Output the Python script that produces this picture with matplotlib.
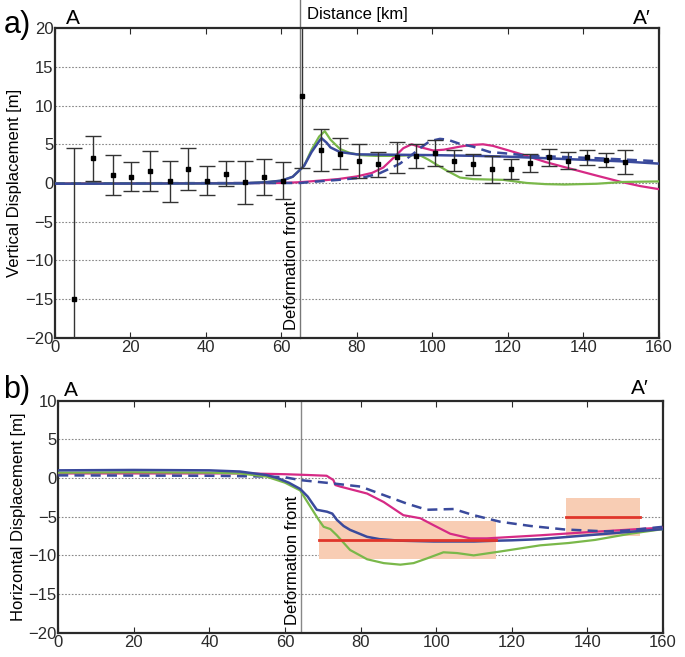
import numpy as np
import matplotlib
matplotlib.use("Agg")
import matplotlib.pyplot as plt

plt.rcParams['font.family'] = ['Liberation Sans', 'DejaVu Sans']

# Observaciones (panel a): distancia, desplazamiento vertical, error
obs_x = [5.2, 10.2, 15.3, 20.3, 25.3, 30.4, 35.4, 40.4, 45.4, 50.4, 55.4, 60.5,
         65.5, 70.5, 75.5, 80.6, 85.7, 90.7, 95.7, 100.7, 105.8, 110.7, 115.8,
         120.8, 125.8, 130.9, 135.9, 140.9, 146.0, 151.0]
obs_y = [-15.0, 3.2, 1.0, 0.8, 1.5, 0.2, 1.8, 0.3, 1.2, 0.1, 0.8, 0.3,
         11.2, 4.3, 3.8, 2.9, 2.4, 3.3, 3.5, 3.9, 2.9, 2.4, 1.8,
         1.8, 2.6, 3.3, 2.9, 3.3, 3.0, 2.7]
obs_err = [19.5, 2.9, 2.6, 1.9, 2.6, 2.7, 2.7, 1.9, 1.6, 2.8, 2.3, 2.4,
           9.3, 2.7, 1.95, 2.2, 1.65, 2.05, 1.55, 1.65, 1.35, 1.4, 1.75,
           1.35, 1.2, 1.15, 1.15, 0.95, 0.9, 1.55]

# Modelos verticales (panel a)
blue_a_x = [0, 50, 56, 60, 63, 66, 68, 70, 70.6, 72, 73, 75.5, 80, 90, 100, 112, 120, 130, 140, 150, 160]
blue_a_y = [-0.1, -0.05, 0.1, 0.3, 0.8, 2.2, 4.0, 5.4, 5.8, 5.2, 4.6, 4.0, 3.7, 3.65, 3.6, 3.5, 3.4, 3.2, 3.0, 2.8, 2.5]
green_a_x = [0, 50, 56, 60, 63, 66, 68, 70, 71.5, 73, 75.5, 78, 81, 85, 90, 95, 97, 99, 101, 103.8,
             107.3, 110.8, 118.8, 125, 130, 135, 143.5, 150.5, 160]
green_a_y = [-0.1, -0.05, 0.1, 0.3, 0.8, 2.2, 4.3, 6.0, 6.7, 5.6, 4.4, 3.9, 3.6, 3.5, 3.5, 3.6, 3.5, 3.0, 2.4, 1.6,
             0.7, 0.5, 0.4, 0.0, -0.15, -0.2, -0.1, 0.13, 0.2]
magenta_a_x = [0, 60, 65, 70, 75, 80, 84, 87, 89.6, 92.3, 94.5, 97, 100.2, 103, 107.3, 110, 113.4, 116,
               122.3, 125, 130, 134.6, 140, 143.5, 149.7, 155, 160]
magenta_a_y = [-0.05, 0.0, 0.1, 0.3, 0.5, 0.85, 1.3, 2.0, 3.2, 4.5, 5.0, 4.6, 4.2, 4.3, 4.7, 4.9, 5.0, 4.8,
               3.9, 3.5, 2.7, 2.1, 1.4, 0.95, 0.17, -0.4, -0.8]
dashed_a_x = [0, 65, 68.4, 75, 81.7, 86, 88, 91.4, 95, 97, 99.3, 102, 104, 107, 110.7, 115.2, 120, 125.8,
              130, 143.5, 150, 160]
dashed_a_y = [-0.05, 0.0, 0.15, 0.4, 0.7, 1.25, 1.7, 2.5, 3.8, 4.6, 5.4, 5.7, 5.6, 5.1, 4.7, 4.0, 3.8, 3.5,
              3.45, 3.2, 3.05, 2.8]

# Modelos horizontales (panel b)
blue_b_x = [0, 20, 40, 48, 55, 58, 61, 64, 66, 68.4, 71.1, 72.5, 73.7, 75.5, 77.2, 81.7, 85, 90.5, 99.3,
            110, 116, 120, 127.5, 140, 150, 160]
blue_b_y = [1.0, 1.05, 1.0, 0.85, 0.4, 0.0, -0.6, -1.4, -2.4, -4.1, -4.35, -4.6, -5.4, -6.2, -6.7, -7.6,
            -7.9, -8.1, -8.2, -8.2, -8.1, -8.05, -7.9, -7.4, -7.0, -6.6]
green_b_x = [0, 20, 40, 48, 55, 60, 64, 66.7, 68.9, 70.2, 72, 73.7, 77.2, 81.7, 86.1, 90.5, 94, 97.5,
             101.9, 105.5, 109.9, 116.9, 127.5, 135, 142, 151.3, 160]
green_b_y = [0.7, 0.75, 0.7, 0.6, 0.2, -0.6, -1.6, -3.7, -5.4, -6.3, -6.6, -7.4, -9.3, -10.5, -11.0, -11.2,
             -11.0, -10.4, -9.6, -9.7, -10.0, -9.5, -8.7, -8.4, -8.0, -7.2, -6.6]
magenta_b_x = [0, 50, 60, 66, 71, 72.8, 73.3, 74.6, 81.7, 86.1, 91.3, 95.8, 99.3, 103.7, 109, 113.4,
               116.9, 127.5, 140, 150, 160]
magenta_b_y = [0.6, 0.6, 0.5, 0.4, 0.3, -0.26, -0.9, -1.1, -2.0, -3.1, -4.8, -5.2, -6.1, -7.2, -7.8, -7.8,
               -7.7, -7.4, -7.0, -6.7, -6.4]
dashed_b_x = [0, 40, 55, 60, 64, 72.8, 80, 86.1, 92.2, 97.5, 101, 104.6, 109.9, 116.9, 125, 134, 145, 150, 160]
dashed_b_y = [0.35, 0.3, 0.2, 0.1, -0.26, -0.7, -1.1, -2.2, -3.3, -4.1, -4.05, -4.0, -4.8, -5.65, -6.2,
              -6.65, -6.9, -6.8, -6.3]

# Segmentos con incertidumbre (panel b)
seg_start = [69.0, 134.4]
seg_end = [115.8, 154.0]
seg_val = [-8.05, -5.05]
seg_unc = [2.45, 2.5]

front_a = 65.0
front_b = 64.3

c_blue = '#3a4a9c'
c_green = '#7ab84a'
c_mag = '#d62a85'
c_red = '#e0362b'
c_box = '#f8cdb4'

fig = plt.figure(figsize=(6.85, 6.57), dpi=100)
ax1 = fig.add_axes([0.080, 0.486, 0.882, 0.471])
ax2 = fig.add_axes([0.085, 0.037, 0.883, 0.353])

def style(ax, ymin, ymax):
    ax.set_xlim(0, 160)
    ax.set_ylim(ymin, ymax)
    ax.set_xticks(np.arange(0, 161, 20))
    ax.set_yticks(np.arange(ymin, ymax + 1, 5))
    for y in np.arange(ymin + 5, ymax, 5):
        ax.axhline(y, color='#888888', ls=(0, (1.5, 1.5)), lw=0.8, zorder=0)
    for s in ax.spines.values():
        s.set_linewidth(1.6)
        s.set_color('#2a2a2a')
    ax.tick_params(direction='in', length=4, width=0.8, top=True, right=True,
                   labelsize=12, pad=2, colors='#2a2a2a')
    ax.tick_params(axis='y', pad=1, length=0)

# Panel a
style(ax1, -20, 20)
ax1.plot([front_a, front_a], [-20, 23.8], color='#777777', lw=1.0, clip_on=False, zorder=1)
ax1.errorbar(obs_x, obs_y, yerr=obs_err, fmt='s', color='black', ecolor='#333333',
             ms=3.5, elinewidth=1.0, capsize=5.5, capthick=1.0, zorder=5)
ax1.plot(magenta_a_x, magenta_a_y, color=c_mag, lw=1.6, zorder=3)
ax1.plot(dashed_a_x, dashed_a_y, color=c_blue, lw=1.8, ls=(0, (4, 2.5)), zorder=3)
ax1.plot(green_a_x, green_a_y, color=c_green, lw=1.6, zorder=3)
ax1.plot(blue_a_x, blue_a_y, color=c_blue, lw=1.8, zorder=4)
ax1.set_ylabel("Vertical Displacement [m]", fontsize=12, labelpad=2)
ax1.text(front_a - 0.3, -19.0, "Deformation front", rotation=90, ha='right', va='bottom', fontsize=12)
ax1.text(0.5, 1.02, "Distance [km]", transform=ax1.transAxes, ha='center', va='bottom', fontsize=12)
fig.text(0.005, 0.962, "a)", fontsize=22, va='center', ha='left')
fig.text(0.107, 0.972, "A", fontsize=15, va='center', ha='center')
fig.text(0.937, 0.972, "A\u2032", fontsize=15, va='center', ha='center')

# Panel b
style(ax2, -20, 10)
ax2.axvline(front_b, color='#888888', lw=1.0, zorder=1)
for xs, xe, v, u in zip(seg_start, seg_end, seg_val, seg_unc):
    ax2.fill_between([xs, xe], [v - u, v - u], [v + u, v + u], color=c_box, lw=0, zorder=1)
    ax2.plot([xs, xe], [v, v], color=c_red, lw=2.0, zorder=5)
ax2.plot(magenta_b_x, magenta_b_y, color=c_mag, lw=1.6, zorder=3)
ax2.plot(dashed_b_x, dashed_b_y, color=c_blue, lw=1.8, ls=(0, (4, 2.5)), zorder=3)
ax2.plot(green_b_x, green_b_y, color=c_green, lw=1.6, zorder=3)
ax2.plot(blue_b_x, blue_b_y, color=c_blue, lw=1.8, zorder=4)
ax2.set_ylabel("Horizontal Displacement [m]", fontsize=12, labelpad=2)
ax2.text(front_b - 0.3, -19.0, "Deformation front", rotation=90, ha='right', va='bottom', fontsize=12)
fig.text(0.005, 0.407, "b)", fontsize=22, va='center', ha='left')
fig.text(0.104, 0.406, "A", fontsize=15, va='center', ha='center')
fig.text(0.934, 0.408, "A\u2032", fontsize=15, va='center', ha='center')

plt.savefig("out.png", dpi=100)
plt.close()
